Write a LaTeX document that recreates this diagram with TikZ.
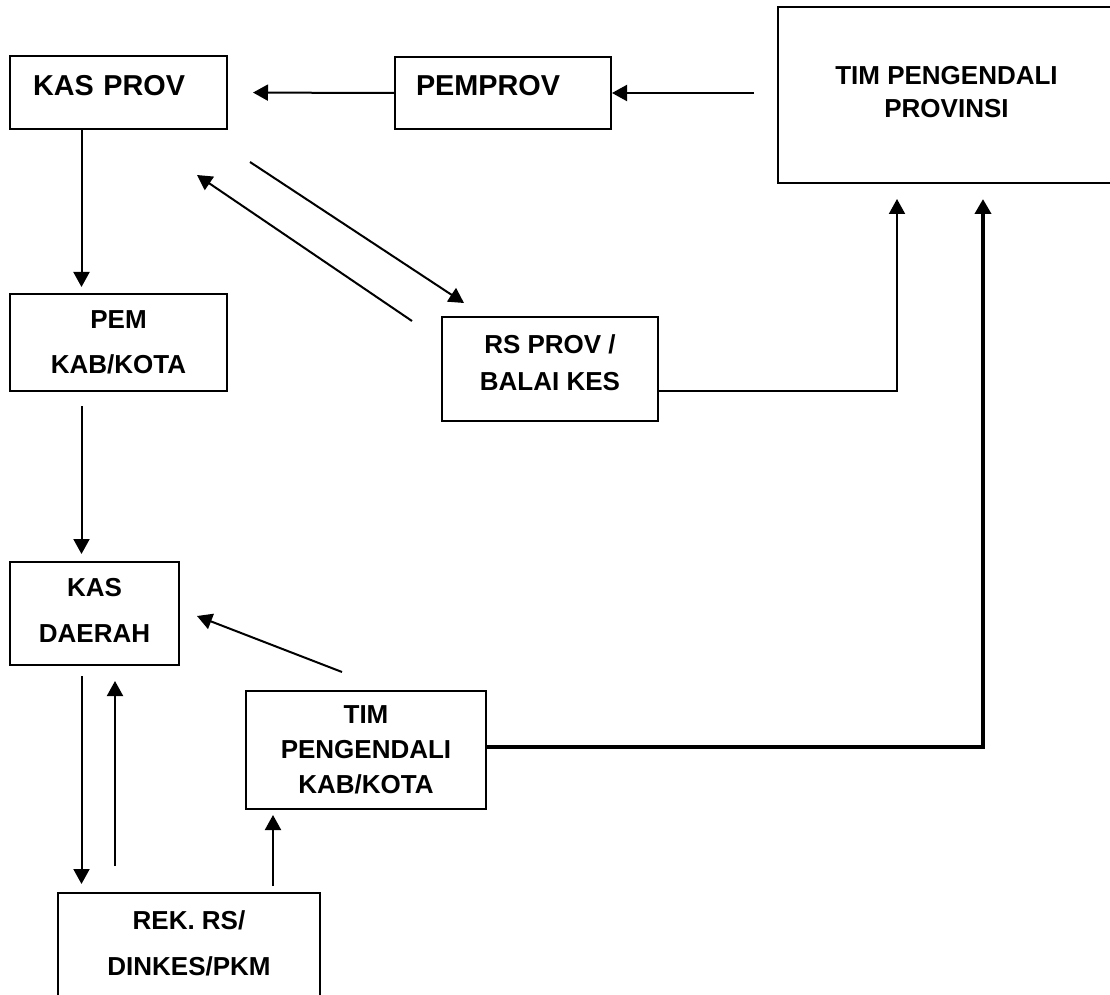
\documentclass[tikz,border=0pt]{standalone}
\usepackage{fontspec}
\setmainfont{Liberation Sans}
\usetikzlibrary{arrows.meta}
\tikzset{
  >={Triangle[length=7.5pt,width=8pt]},
  box/.style={draw, line width=1pt, inner sep=0pt, align=center,
    font=\bfseries\fontsize{13}{23}\selectfont},
  arr/.style={->, line width=1pt},
  thickarr/.style={->, line width=2pt},
}

\begin{document}
\begin{tikzpicture}[x=0.5pt, y=-0.5pt]
\useasboundingbox (0,0) rectangle (1110,995);
\clip (0,0) rectangle (1110,995);
% boxes
\node[box, minimum width=108.5pt, minimum height=36.5pt, text width=85.5pt, align=left,
  text height=10.3pt, text depth=7.5pt, font=\bfseries\fontsize{14.4}{17}\selectfont]
  (kasprov) at (118.5,92.5) {KAS PROV};
\node[box, minimum width=108pt, minimum height=36pt, text width=87pt, align=left,
  text height=10.3pt, text depth=8pt, font=\bfseries\fontsize{14.4}{17}\selectfont]
  (pemprov) at (503,93) {PEMPROV};
\node[box, minimum width=168.5pt, minimum height=88pt, text depth=3.5pt,
  font=\bfseries\fontsize{13}{16.5}\selectfont]
  (timprov) at (946.5,95) {TIM PENGENDALI\\PROVINSI};
\node[box, minimum width=108.5pt, minimum height=48.5pt,
  font=\bfseries\fontsize{13}{22.5}\selectfont]
  (pemkab) at (118.5,342.5) {PEM\\KAB/KOTA};
\node[box, minimum width=108pt, minimum height=52pt, text depth=6.5pt,
  font=\bfseries\fontsize{13}{18.5}\selectfont]
  (rsprov) at (550,369) {RS PROV /\\BALAI KES};
\node[box, minimum width=84.5pt, minimum height=51.5pt, text depth=3.5pt]
  (kasdaerah) at (94.5,613.5) {KAS\\DAERAH};
\node[box, minimum width=120pt, minimum height=59pt,
  font=\bfseries\fontsize{13}{17.5}\selectfont]
  (timkab) at (366,750) {TIM\\PENGENDALI\\KAB/KOTA};
\node[box, minimum width=131pt, minimum height=58.5pt, text depth=8.5pt]
  (rek) at (189,951.5) {REK. RS/\\DINKES/PKM};
% top row
\draw[arr, shorten >=12.5pt] (pemprov.west) -- (kasprov.east);
\draw[arr, shorten <=11.5pt] (timprov.west |- pemprov.east) -- (pemprov.east);
% left column
\draw[arr] ([shift={(72.5,0)}]kasprov.south west) -- ([shift={(72.5,-6)}]pemkab.north west);
\draw[arr] ([shift={(72.5,14)}]pemkab.south west) -- ([shift={(72.5,-7)}]kasdaerah.north west);
\draw[arr] ([shift={(72.5,10)}]kasdaerah.south west) -- ([shift={(24.5,-8)}]rek.north west);
\draw[arr] ([shift={(58,-26)}]rek.north west) -- ([shift={(106,15)}]kasdaerah.south west);
\draw[arr] ([shift={(216,-6)}]rek.north west) -- ([shift={(28,5)}]timkab.south west);
\draw[arr] ([shift={(97,-18)}]timkab.north west) -- ([shift={(17,2.5)}]kasdaerah.east);
% kas prov <-> rs prov
\draw[arr] ([shift={(22,32)}]kasprov.south east) -- ([shift={(23,-13)}]rsprov.north west);
\draw[arr] ([shift={(-29,5)}]rsprov.north west) -- ([shift={(-31,45)}]kasprov.south east);
% reports up to tim pengendali provinsi
\draw[arr] ([shift={(0,22)}]rsprov.east) -| ([shift={(120,15)}]timprov.south west);
\draw[thickarr] ([shift={(0,-3)}]timkab.east) -| ([shift={(206,15)}]timprov.south west);
\end{tikzpicture}
\end{document}
